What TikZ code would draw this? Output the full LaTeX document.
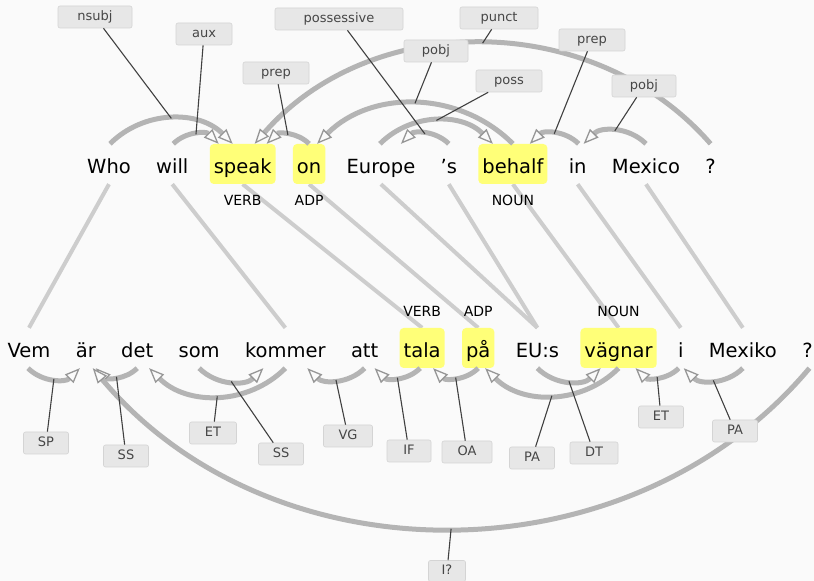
\documentclass[tikz,border=0pt]{standalone}
\usepackage{fontspec}
\setmainfont{DejaVu Sans}
\usetikzlibrary{positioning,arrows.meta,backgrounds}

\definecolor{bgc}{RGB}{250,250,250}
\definecolor{arcgray}{RGB}{180,180,180}
\definecolor{tipgray}{RGB}{150,150,150}
\definecolor{linkgray}{RGB}{205,205,205}
\definecolor{boxgray}{RGB}{231,231,231}
\definecolor{boxline}{RGB}{212,212,212}
\definecolor{labtext}{RGB}{70,70,70}
\definecolor{hlyellow}{RGB}{255,255,120}

\tikzset{
  word/.style={inner xsep=4pt, inner ysep=0pt, text height=30pt, text depth=10pt,
    font=\fontsize{19.5}{20}\selectfont, rounded corners=4pt},
  hl/.style={word, fill=hlyellow},
  tag/.style={inner sep=0pt, text height=10pt, text depth=0pt, font=\fontsize{14}{14}\selectfont},
  dep/.style={draw=arcgray, line width=5pt,
    -{Triangle[length=15pt, width=12pt, line width=1.3pt, color=tipgray, fill=bgc]}},
  link/.style={draw=linkgray, line width=4pt},
  lab/.style={draw=boxline, fill=boxgray, rounded corners=2pt, line width=0.6pt,
    minimum height=22pt, inner sep=0pt, text height=9.5pt, text depth=3pt,
    text=labtext, font=\fontsize{13}{13}\selectfont},
  tick/.style={draw=black!75, line width=1.1pt}
}

\begin{document}
\begin{tikzpicture}[x=1pt, y=1pt, node distance=17pt]
\useasboundingbox (0,0) rectangle (814,581);

\node[word] (who) at (109,417) {Who};
\node[word, right=of who] (will) {will};
\node[hl, right=of will] (speak) {speak};
\node[hl, right=of speak] (on) {on};
\node[word, right=of on] (europe) {Europe};
\node[word, right=of europe] (apos) {’s};
\node[hl, right=of apos] (behalf) {behalf};
\node[word, right=of behalf] (in) {in};
\node[word, right=of in] (mexico) {Mexico};
\node[word, right=of mexico] (q1) {?};

\node[tag, below=11pt of speak] (t-speak) {VERB};
\node[tag, below=11pt of on] (t-on) {ADP};
\node[tag, below=11pt of behalf] (t-behalf) {NOUN};

\node[word] (vem) at (29,233) {Vem};
\node[word, right=of vem] (ar) {är};
\node[word, right=of ar] (det) {det};
\node[word, right=of det] (som) {som};
\node[word, right=of som] (kommer) {kommer};
\node[word, right=of kommer] (att) {att};
\node[hl, right=of att] (tala) {tala};
\node[hl, right=of tala] (pa) {på};
\node[word, right=of pa] (eus) {EU:s};
\node[hl, right=of eus] (vagnar) {vägnar};
\node[word, right=of vagnar] (i) {i};
\node[word, right=of i] (mexiko) {Mexiko};
\node[word, right=of mexiko] (q2) {?};

\node[tag, above=11pt of tala] (t-tala) {VERB};
\node[tag, above=11pt of pa] (t-pa) {ADP};
\node[tag, above=11pt of vagnar] (t-vagnar) {NOUN};

\begin{scope}[on background layer]
\fill[bgc] (0,0) rectangle (814,581);
\draw[link] (who.south) -- (vem.north);
\draw[link] (will.south) -- (kommer.north);
\draw[link] (speak.south) -- (tala.north);
\draw[link] (on.south) -- (pa.north);
\draw[link] (europe.south) -- (eus.north);
\draw[link] (apos.south) -- (eus.north);
\draw[link] (behalf.south) -- (vagnar.north);
\draw[link] (in.south) -- (i.north);
\draw[link] (mexico.south) -- (mexiko.north);
\end{scope}

\draw[dep] ([xshift=1pt]who.north) to[bend left=45] coordinate[pos=.5] (m-nsubj) ([xshift=-10pt]speak.north);
\draw[dep] ([xshift=1pt]will.north) to[bend left=45] coordinate[pos=.5] (m-aux) ([xshift=-24pt]speak.north);
\draw[dep] (on.north) to[bend right=45] coordinate[pos=.5] (m-prep) ([xshift=24pt]speak.north);
\draw[dep] (behalf.north) to[bend right=45] coordinate[pos=.5] (m-pobj) ([xshift=8pt]on.north);
\draw[dep] (apos.north) to[bend right=45] coordinate[pos=.5] (m-possessive) ([xshift=20pt]europe.north);
\draw[dep] ([xshift=-1pt]europe.north) to[bend left=45] coordinate[pos=.5] (m-poss) ([xshift=-20pt]behalf.north);
\draw[dep] (q1.north) to[bend right=49] coordinate[pos=.5] (m-punct) ([xshift=12pt]speak.north);
\draw[dep] ([xshift=1pt]in.north) to[bend right=45] coordinate[pos=.5] (m-prep2) ([xshift=17pt]behalf.north);
\draw[dep] (mexico.north) to[bend right=45] coordinate[pos=.5] (m-pobj2) ([xshift=6pt]in.north);

\draw[dep] ([xshift=-1pt]vem.south) to[bend right=45] coordinate[pos=.5] (m-sp) ([xshift=-6pt]ar.south);
\draw[dep] (det.south) to[bend left=45] coordinate[pos=.5] (m-ss1) ([xshift=10pt]ar.south);
\draw[dep] (kommer.south) to[bend left=45] coordinate[pos=.5] (m-et1) ([xshift=12pt]det.south);
\draw[dep] (som.south) to[bend right=45] coordinate[pos=.5] (m-ss2) ([xshift=-22pt]kommer.south);
\draw[dep] (att.south) to[bend left=45] coordinate[pos=.5] (m-vg) ([xshift=22pt]kommer.south);
\draw[dep] ([xshift=-2pt]tala.south) to[bend left=45] coordinate[pos=.5] (m-if) ([xshift=10pt]att.south);
\draw[dep] (pa.south) to[bend left=45] coordinate[pos=.5] (m-oa) ([xshift=11pt]tala.south);
\draw[dep] (vagnar.south) to[bend left=45] coordinate[pos=.5] (m-pa1) ([xshift=7pt]pa.south);
\draw[dep] (eus.south) to[bend right=45] coordinate[pos=.5] (m-dt) ([xshift=-18pt]vagnar.south);
\draw[dep] ([xshift=-2pt]i.south) to[bend left=45] coordinate[pos=.5] (m-et2) ([xshift=17pt]vagnar.south);
\draw[dep] (mexiko.south) to[bend left=45] coordinate[pos=.5] (m-pa2) ([xshift=3pt]i.south);
\draw[dep] ([xshift=2pt]q2.south) to[bend left=50] coordinate[pos=.5] (m-iq) ([xshift=7pt]ar.south);

\node[lab, minimum width=74pt] (l-nsubj) at (95,564) {nsubj};
\node[lab, minimum width=56pt] (l-aux) at (204,547) {aux};
\node[lab, minimum width=128pt] (l-possessive) at (339,562) {possessive};
\node[lab, minimum width=66pt] (l-prep) at (276,508) {prep};
\node[lab, minimum width=64pt] (l-pobj) at (436,530) {pobj};
\node[lab, minimum width=78pt] (l-punct) at (499,563) {punct};
\node[lab, minimum width=66pt] (l-poss) at (509,500) {poss};
\node[lab, minimum width=66pt] (l-prep2) at (592,541) {prep};
\node[lab, minimum width=64pt] (l-pobj2) at (644,495) {pobj};

\node[lab, minimum width=45pt] (l-sp) at (46,138) {SP};
\node[lab, minimum width=45pt] (l-ss1) at (126,125) {SS};
\node[lab, minimum width=47pt] (l-et1) at (213,148) {ET};
\node[lab, minimum width=45pt] (l-ss2) at (281,127) {SS};
\node[lab, minimum width=49pt] (l-vg) at (348,145) {VG};
\node[lab, minimum width=44pt] (l-if) at (409,130) {IF};
\node[lab, minimum width=50pt] (l-oa) at (467,129) {OA};
\node[lab, minimum width=45pt] (l-pa1) at (532,123) {PA};
\node[lab, minimum width=48pt] (l-dt) at (594,128) {DT};
\node[lab, minimum width=45pt] (l-et2) at (661,164) {ET};
\node[lab, minimum width=45pt] (l-pa2) at (735,150) {PA};
\node[lab, minimum width=37pt, minimum height=21pt] (l-iq) at (447,10) {I?};

\draw[tick] (l-nsubj) -- (m-nsubj);
\draw[tick] (l-aux) -- (m-aux);
\draw[tick] (l-prep) -- (m-prep);
\draw[tick] (l-pobj) -- (m-pobj);
\draw[tick] (l-possessive) -- (m-possessive);
\draw[tick] (l-poss) -- (m-poss);
\draw[tick] (l-punct) -- (m-punct);
\draw[tick] (l-prep2) -- (m-prep2);
\draw[tick] (l-pobj2) -- (m-pobj2);
\draw[tick] (l-sp) -- (m-sp);
\draw[tick] (l-ss1) -- (m-ss1);
\draw[tick] (l-et1) -- (m-et1);
\draw[tick] (l-ss2) -- (m-ss2);
\draw[tick] (l-vg) -- (m-vg);
\draw[tick] (l-if) -- (m-if);
\draw[tick] (l-oa) -- (m-oa);
\draw[tick] (l-pa1) -- (m-pa1);
\draw[tick] (l-dt) -- (m-dt);
\draw[tick] (l-et2) -- (m-et2);
\draw[tick] (l-pa2) -- (m-pa2);
\draw[tick] (l-iq) -- (m-iq);
\end{tikzpicture}
\end{document}
